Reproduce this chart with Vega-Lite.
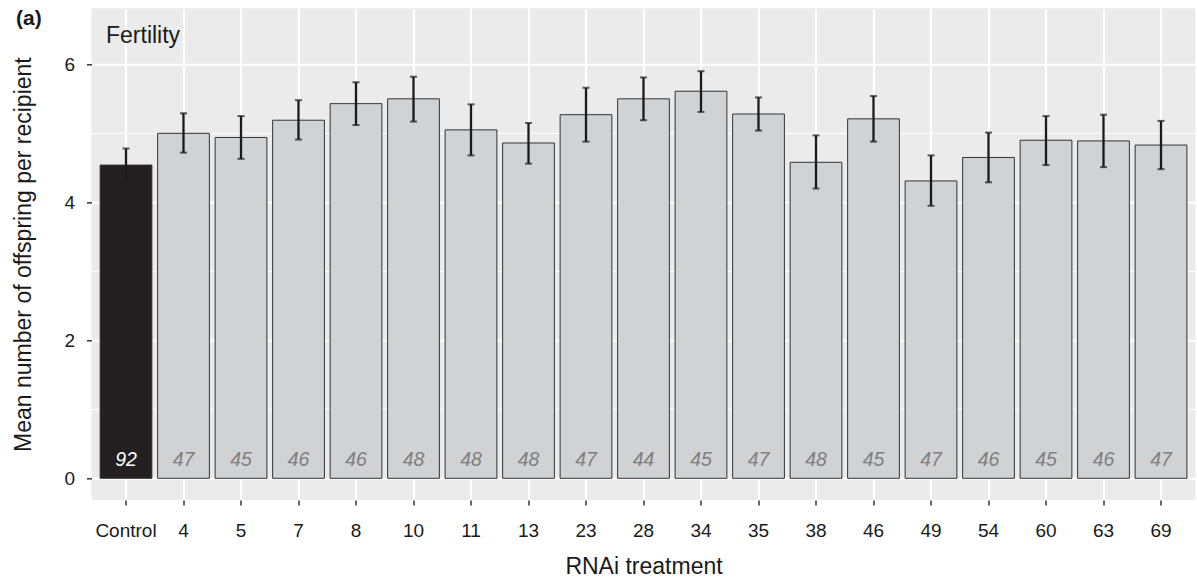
{
  "$schema": "https://vega.github.io/schema/vega-lite/v6.json",
  "width": 1104,
  "height": 491.7,
  "autosize": "none",
  "padding": {"left": 91.5, "top": 8.3, "right": 1.5, "bottom": 83},
  "background": "white",
  "config": {
    "font": "Liberation Sans",
    "view": {"fill": "#EBEBEB", "stroke": null},
    "axis": {"domain": false, "gridColor": "white", "gridWidth": 2, "gridOpacity": 1, "tickColor": "#333333", "tickWidth": 1.5, "tickSize": 5, "labelFontSize": 19, "labelColor": "#1a1a1a", "titleFontSize": 23, "titleFontWeight": "normal", "titleColor": "#1a1a1a", "labelFont": "Liberation Sans", "titleFont": "Liberation Sans"}
  },
  "datasets": {
    "fert": [
      {"treatment": "Control", "mean": 4.54, "lo": 4.30, "hi": 4.78, "n": 92},
      {"treatment": "4", "mean": 5.00, "lo": 4.72, "hi": 5.29, "n": 47},
      {"treatment": "5", "mean": 4.94, "lo": 4.63, "hi": 5.25, "n": 45},
      {"treatment": "7", "mean": 5.19, "lo": 4.91, "hi": 5.48, "n": 46},
      {"treatment": "8", "mean": 5.43, "lo": 5.12, "hi": 5.74, "n": 46},
      {"treatment": "10", "mean": 5.50, "lo": 5.17, "hi": 5.82, "n": 48},
      {"treatment": "11", "mean": 5.05, "lo": 4.68, "hi": 5.42, "n": 48},
      {"treatment": "13", "mean": 4.86, "lo": 4.56, "hi": 5.15, "n": 48},
      {"treatment": "23", "mean": 5.27, "lo": 4.88, "hi": 5.66, "n": 47},
      {"treatment": "28", "mean": 5.50, "lo": 5.19, "hi": 5.81, "n": 44},
      {"treatment": "34", "mean": 5.61, "lo": 5.31, "hi": 5.90, "n": 45},
      {"treatment": "35", "mean": 5.28, "lo": 5.04, "hi": 5.52, "n": 47},
      {"treatment": "38", "mean": 4.58, "lo": 4.20, "hi": 4.97, "n": 48},
      {"treatment": "46", "mean": 5.21, "lo": 4.88, "hi": 5.54, "n": 45},
      {"treatment": "49", "mean": 4.31, "lo": 3.95, "hi": 4.68, "n": 47},
      {"treatment": "54", "mean": 4.65, "lo": 4.29, "hi": 5.01, "n": 46},
      {"treatment": "60", "mean": 4.90, "lo": 4.54, "hi": 5.25, "n": 45},
      {"treatment": "63", "mean": 4.89, "lo": 4.51, "hi": 5.27, "n": 46},
      {"treatment": "69", "mean": 4.83, "lo": 4.48, "hi": 5.18, "n": 47}
    ],
    "minor": [{"v": 1}, {"v": 3}, {"v": 5}],
    "panel": [{"label": "Fertility", "treatment": "Control"}],
    "tag": [{"label": "(a)", "treatment": "Control"}]
  },
  "layer": [
    {
      "data": {"name": "minor"},
      "mark": {"type": "rule", "color": "white", "strokeWidth": 1},
      "encoding": {
        "y": {"field": "v", "type": "quantitative", "title": "Mean number of offspring per recipient", "scale": {"domain": [-0.3145, 6.812], "nice": false, "zero": false}}
      }
    },
    {
      "data": {"name": "fert"},
      "layer": [
        {
          "mark": {"type": "bar", "stroke": "#333333", "strokeWidth": 1},
          "encoding": {
            "x": {"field": "treatment", "type": "nominal", "sort": null,
              "scale": {"domain": ["Control", "4", "5", "7", "8", "10", "11", "13", "23", "28", "34", "35", "38", "46", "49", "54", "60", "63", "69"], "paddingInner": 0.1, "paddingOuter": 0.15},
              "axis": {"title": "RNAi treatment", "bandPosition": 0.5, "grid": true, "labelAngle": 0, "labelPadding": 16, "titleY": 73, "titleBaseline": "alphabetic"}},
            "y": {"field": "mean", "type": "quantitative", "title": "Mean number of offspring per recipient",
              "scale": {"domain": [-0.3145, 6.812], "nice": false, "zero": false},
              "axis": {"values": [0, 2, 4, 6], "format": ".0f", "grid": true, "labelPadding": 12, "titleX": -56, "titleY": 245.8}},
            "y2": {"datum": 0},
            "fill": {"condition": {"test": "datum.treatment === 'Control'", "value": "#231F20"}, "value": "#D1D2D4"}
          }
        },
        {
          "mark": {"type": "errorbar", "color": "#1a1a1a", "ticks": {"size": 7, "thickness": 2}, "rule": {"strokeWidth": 2.3}},
          "encoding": {
            "x": {"field": "treatment", "type": "nominal", "sort": null},
            "y": {"field": "lo", "type": "quantitative", "title": "Mean number of offspring per recipient"},
            "y2": {"field": "hi"}
          }
        },
        {
          "mark": {"type": "text", "fontSize": 19.5, "fontStyle": "italic", "baseline": "alphabetic", "dy": -12.3},
          "encoding": {
            "x": {"field": "treatment", "type": "nominal", "sort": null},
            "y": {"datum": 0},
            "text": {"field": "n", "type": "quantitative"},
            "color": {"condition": {"test": "datum.treatment === 'Control'", "value": "white"}, "value": "#7F7F7F"}
          }
        }
      ]
    },
    {
      "data": {"name": "panel"},
      "mark": {"type": "text", "fontSize": 23, "align": "left", "baseline": "alphabetic", "dx": -20, "color": "#1a1a1a"},
      "encoding": {
        "x": {"field": "treatment", "type": "nominal", "sort": null},
        "y": {"datum": 6.304},
        "text": {"field": "label"}
      }
    },
    {
      "data": {"name": "tag"},
      "mark": {"type": "text", "fontSize": 21, "fontWeight": "bold", "align": "left", "baseline": "alphabetic", "dx": -110, "color": "#1a1a1a", "clip": false},
      "encoding": {
        "x": {"field": "treatment", "type": "nominal", "sort": null},
        "y": {"datum": 6.57},
        "text": {"field": "label"}
      }
    }
  ]
}
